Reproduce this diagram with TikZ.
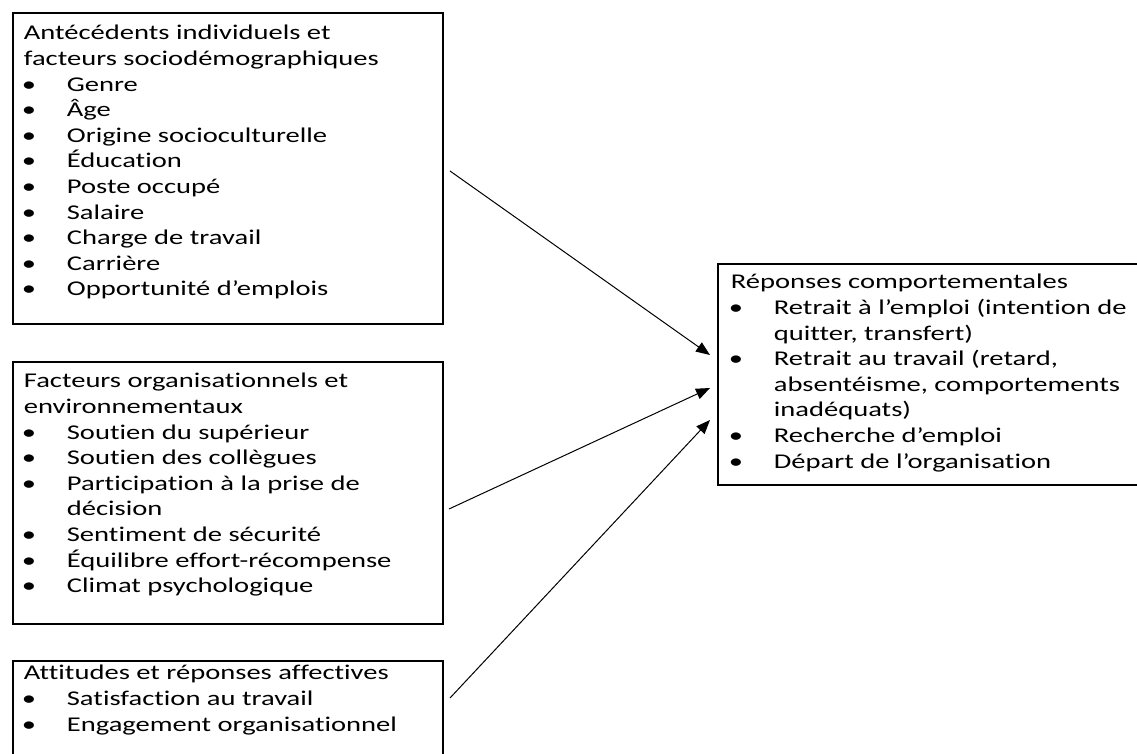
\documentclass[tikz,border=0pt]{standalone}
\usepackage{fontspec}
\setmainfont{Carlito}[FakeStretch=1.36,Ligatures=NoCommon]
\usetikzlibrary{arrows.meta}

\newcommand\puce[1]{\par\noindent\hangindent=21.5pt\hangafter=1%
  \makebox[21.5pt][l]{\hspace{-1pt}•}#1}
\newcommand\cadre[4]{\parbox[t][#2][t]{#1}{\raggedright\noindent\rule{0pt}{#3}#4}}

\begin{document}
\begin{tikzpicture}[x=0.5pt,y=-0.5pt,
    boite/.style={draw, line width=0.9pt, anchor=north west, inner ysep=0pt,
      inner xsep=5.5pt, font=\fontsize{10.5pt}{12.8pt}\selectfont},
    fleche/.style={-{Triangle[length=7pt,width=5.5pt]}, line width=0.5pt}]
  \clip (0,0) rectangle (1137,754);
  % boxes on the left
  \node[boite] (ante) at (12,12) {\cadre{204pt}{155.5pt}{13.5pt}{%
      Antécédents individuels et\newline facteurs sociodémographiques
      \puce{Genre}
      \puce{Âge}
      \puce{Origine socioculturelle}
      \puce{Éducation}
      \puce{Poste occupé}
      \puce{Salaire}
      \puce{Charge de travail}
      \puce{Carrière}
      \puce{Opportunité d’emplois}}};
  \node[boite] (orga) at (12,361) {\cadre{204pt}{131pt}{13pt}{%
      Facteurs organisationnels et\newline environnementaux
      \puce{Soutien du supérieur}
      \puce{Soutien des collègues}
      \puce{Participation à la prise de\newline décision}
      \puce{Sentiment de sécurité}
      \puce{Équilibre effort-récompense}
      \puce{Climat psychologique}}};
  \node[boite] (attit) at (12,660) {\cadre{204pt}{60pt}{9.5pt}{%
      Attitudes et réponses affectives
      \puce{Satisfaction au travail}
      \puce{Engagement organisationnel}}};
  % box on the right
  \node[boite, inner xsep=6.5pt] (repon) at (717,263) {\cadre{217pt}{110.5pt}{12.5pt}{%
      Réponses comportementales
      \puce{Retrait à l’emploi (intention de\newline quitter, transfert)}
      \puce{Retrait au travail (retard,\newline absentéisme, comportements\newline inadéquats)}
      \puce{Recherche d’emploi}
      \puce{Départ de l’organisation}}};
  % arrows
  \coordinate (d1) at (450,171);
  \coordinate (d2) at (449,509);
  \coordinate (d3) at (450,698);
  \coordinate (a1) at (710,355);
  \coordinate (a2) at (710,388);
  \coordinate (a3) at (710,420);
  \draw[fleche] (d1) -- (a1);
  \draw[fleche] (d2) -- (a2);
  \draw[fleche] (d3) -- (a3);
\end{tikzpicture}
\end{document}
